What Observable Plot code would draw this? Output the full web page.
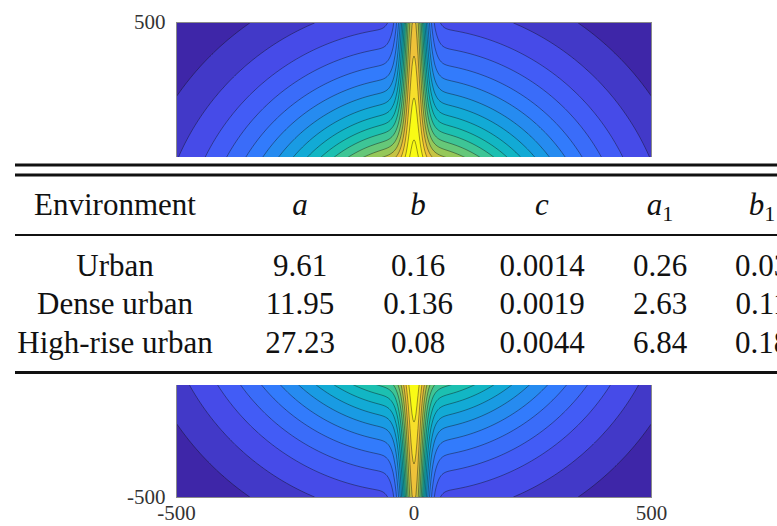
<!DOCTYPE html>
<html>
<head>
<meta charset="utf-8">
<script src="https://cdn.jsdelivr.net/npm/d3@7"></script>
<script src="https://cdn.jsdelivr.net/npm/@observablehq/plot@0.6"></script>
<style>
  html, body { margin: 0; padding: 0; background: #fff; overflow: hidden; }
  #wrap { position: relative; width: 777px; height: 526px; overflow: hidden; }
  #table { position: absolute; left: 0; top: 0; pointer-events: none; }
  svg text { font-family: "Liberation Serif", "Times New Roman", Times, serif; }
</style>
</head>
<body>
<div id="wrap"></div>
<script>
// ---- Contour map data ----
// radii (data units) where the contour lines cross, away from the central ridge
const ringRadii = [607, 541, 490, 450, 415, 385, 358, 334, 312, 292, 274, 257, 241, 226, 212, 199, 187, 176];
// level of the ridge crest (x = 0) at two distances |y|
const ridgeAbsY = [200, 500];
const ridgeLevel = [18.6, 15.2];
const ridgeWidth = 28;
const axisTicks = [-500, 0, 500];

// ---- Table data ----
const environments = ["Urban", "Dense urban", "High-rise urban"];
const colA = [9.61, 11.95, 27.23];
const colB = [0.16, 0.136, 0.08];
const colC = [0.0014, 0.0019, 0.0044];
const colA1 = [0.26, 2.63, 6.84];
const colB1 = [0.03, 0.11, 0.18];

// parula-like colormap
const parulaStops = [[0,"#3e26a8"],[0.143,"#4752f4"],[0.302,"#327bfc"],[0.46,"#12a5dc"],[0.587,"#12beb9"],[0.698,"#4fc888"],[0.81,"#a7c84e"],[0.873,"#dac03b"],[0.937,"#fec338"],[0.968,"#f7dd2b"],[1,"#f9fb15"]];
function parula(t) {
  t = Math.max(0, Math.min(1, t));
  for (let i = 0; i < parulaStops.length - 1; i++) {
    const [t0, c0] = parulaStops[i], [t1, c1] = parulaStops[i + 1];
    if (t <= t1) return d3.interpolateRgb(c0, c1)((t - t0) / (t1 - t0));
  }
  return parulaStops[parulaStops.length - 1][1];
}
const nLevels = ringRadii.length;
const levels = d3.range(0, nLevels + 1);
const levelColors = levels.map(k => parula(k / 16.5));

function baseLevel(r) {
  const R = ringRadii, n = R.length;
  if (r >= R[0]) return 1 - (r - R[0]) / (R[0] - R[1]);
  for (let i = 0; i < n - 1; i++) {
    if (r >= R[i + 1]) return (i + 1) + (R[i] - r) / (R[i] - R[i + 1]);
  }
  return n + (R[n - 1] - r) / (R[n - 2] - R[n - 1]);
}
const crest = d3.scaleLinear().domain(ridgeAbsY).range(ridgeLevel);
function field(x, y) {
  const r = Math.hypot(x, y);
  const ay = Math.abs(y);
  const b = baseLevel(r);
  const amp = Math.max(0, crest(ay) - baseLevel(ay));
  const q = x / ridgeWidth;
  const v = b + amp * Math.exp(-(q * q));
  return Math.max(0, v);
}

const chart = Plot.plot({
  width: 777,
  height: 526,
  marginLeft: 176,
  marginRight: 126,
  marginTop: 22,
  marginBottom: 29,
  style: { fontFamily: "\"Liberation Serif\", \"Times New Roman\", serif", fontSize: "21px", color: "#333", background: "#fff" },
  x: { domain: [-500, 500], ticks: axisTicks, tickFormat: d => String(d), tickSize: 0, tickPadding: 8, label: null },
  y: { domain: [-500, 500], ticks: axisTicks, tickFormat: d => String(d), tickSize: 0, tickPadding: 11, label: null },
  color: { type: "ordinal", domain: levels, range: levelColors },
  marks: [
    Plot.contour({
      x1: -500, x2: 500, y1: -500, y2: 500,
      fill: field,
      thresholds: levels,
      pixelSize: 1,
      stroke: "#111",
      strokeWidth: 0.5,
      strokeOpacity: 0.85
    }),
    Plot.frame({ stroke: "#8a8a8a", strokeWidth: 1 })
  ]
});
document.getElementById("wrap").appendChild(chart);

// ---- Table overlay ----
const svg = d3.select("#wrap").append("svg")
  .attr("id", "table").attr("width", 777).attr("height", 526)
  .attr("font-family", "Liberation Serif, Times New Roman, serif")
  .attr("font-size", 31);
svg.append("rect").attr("x", 0).attr("y", 157).attr("width", 777).attr("height", 228).attr("fill", "#fff");
const rules = [[165, 3], [175, 3], [235, 2], [372.5, 3]];
rules.forEach(([y, w]) => svg.append("line").attr("x1", 15).attr("x2", 800).attr("y1", y).attr("y2", y).attr("stroke", "#111").attr("stroke-width", w));

const colX = [115, 300, 418, 542, 660, 762];
const headerY = 214.5;
const rowY = [276, 314, 352.5];
const hdr = svg.append("g").attr("fill", "#111").attr("text-anchor", "middle");
hdr.append("text").attr("x", colX[0]).attr("y", headerY).text("Environment");
const mathHeads = [["a", null], ["b", null], ["c", null], ["a", "1"], ["b", "1"]];
mathHeads.forEach(([v, sub], i) => {
  const t = hdr.append("text").attr("x", colX[i + 1]).attr("y", headerY);
  t.append("tspan").attr("font-style", "italic").text(v);
  if (sub) t.append("tspan").attr("font-size", 22).attr("dy", 6).text(sub);
});
const cols = [environments, colA, colB, colC, colA1, colB1];
const body = svg.append("g").attr("fill", "#111").attr("text-anchor", "middle");
cols.forEach((col, ci) => {
  col.forEach((val, ri) => {
    body.append("text").attr("x", colX[ci]).attr("y", rowY[ri]).text(String(val));
  });
});
</script>
</body>
</html>
